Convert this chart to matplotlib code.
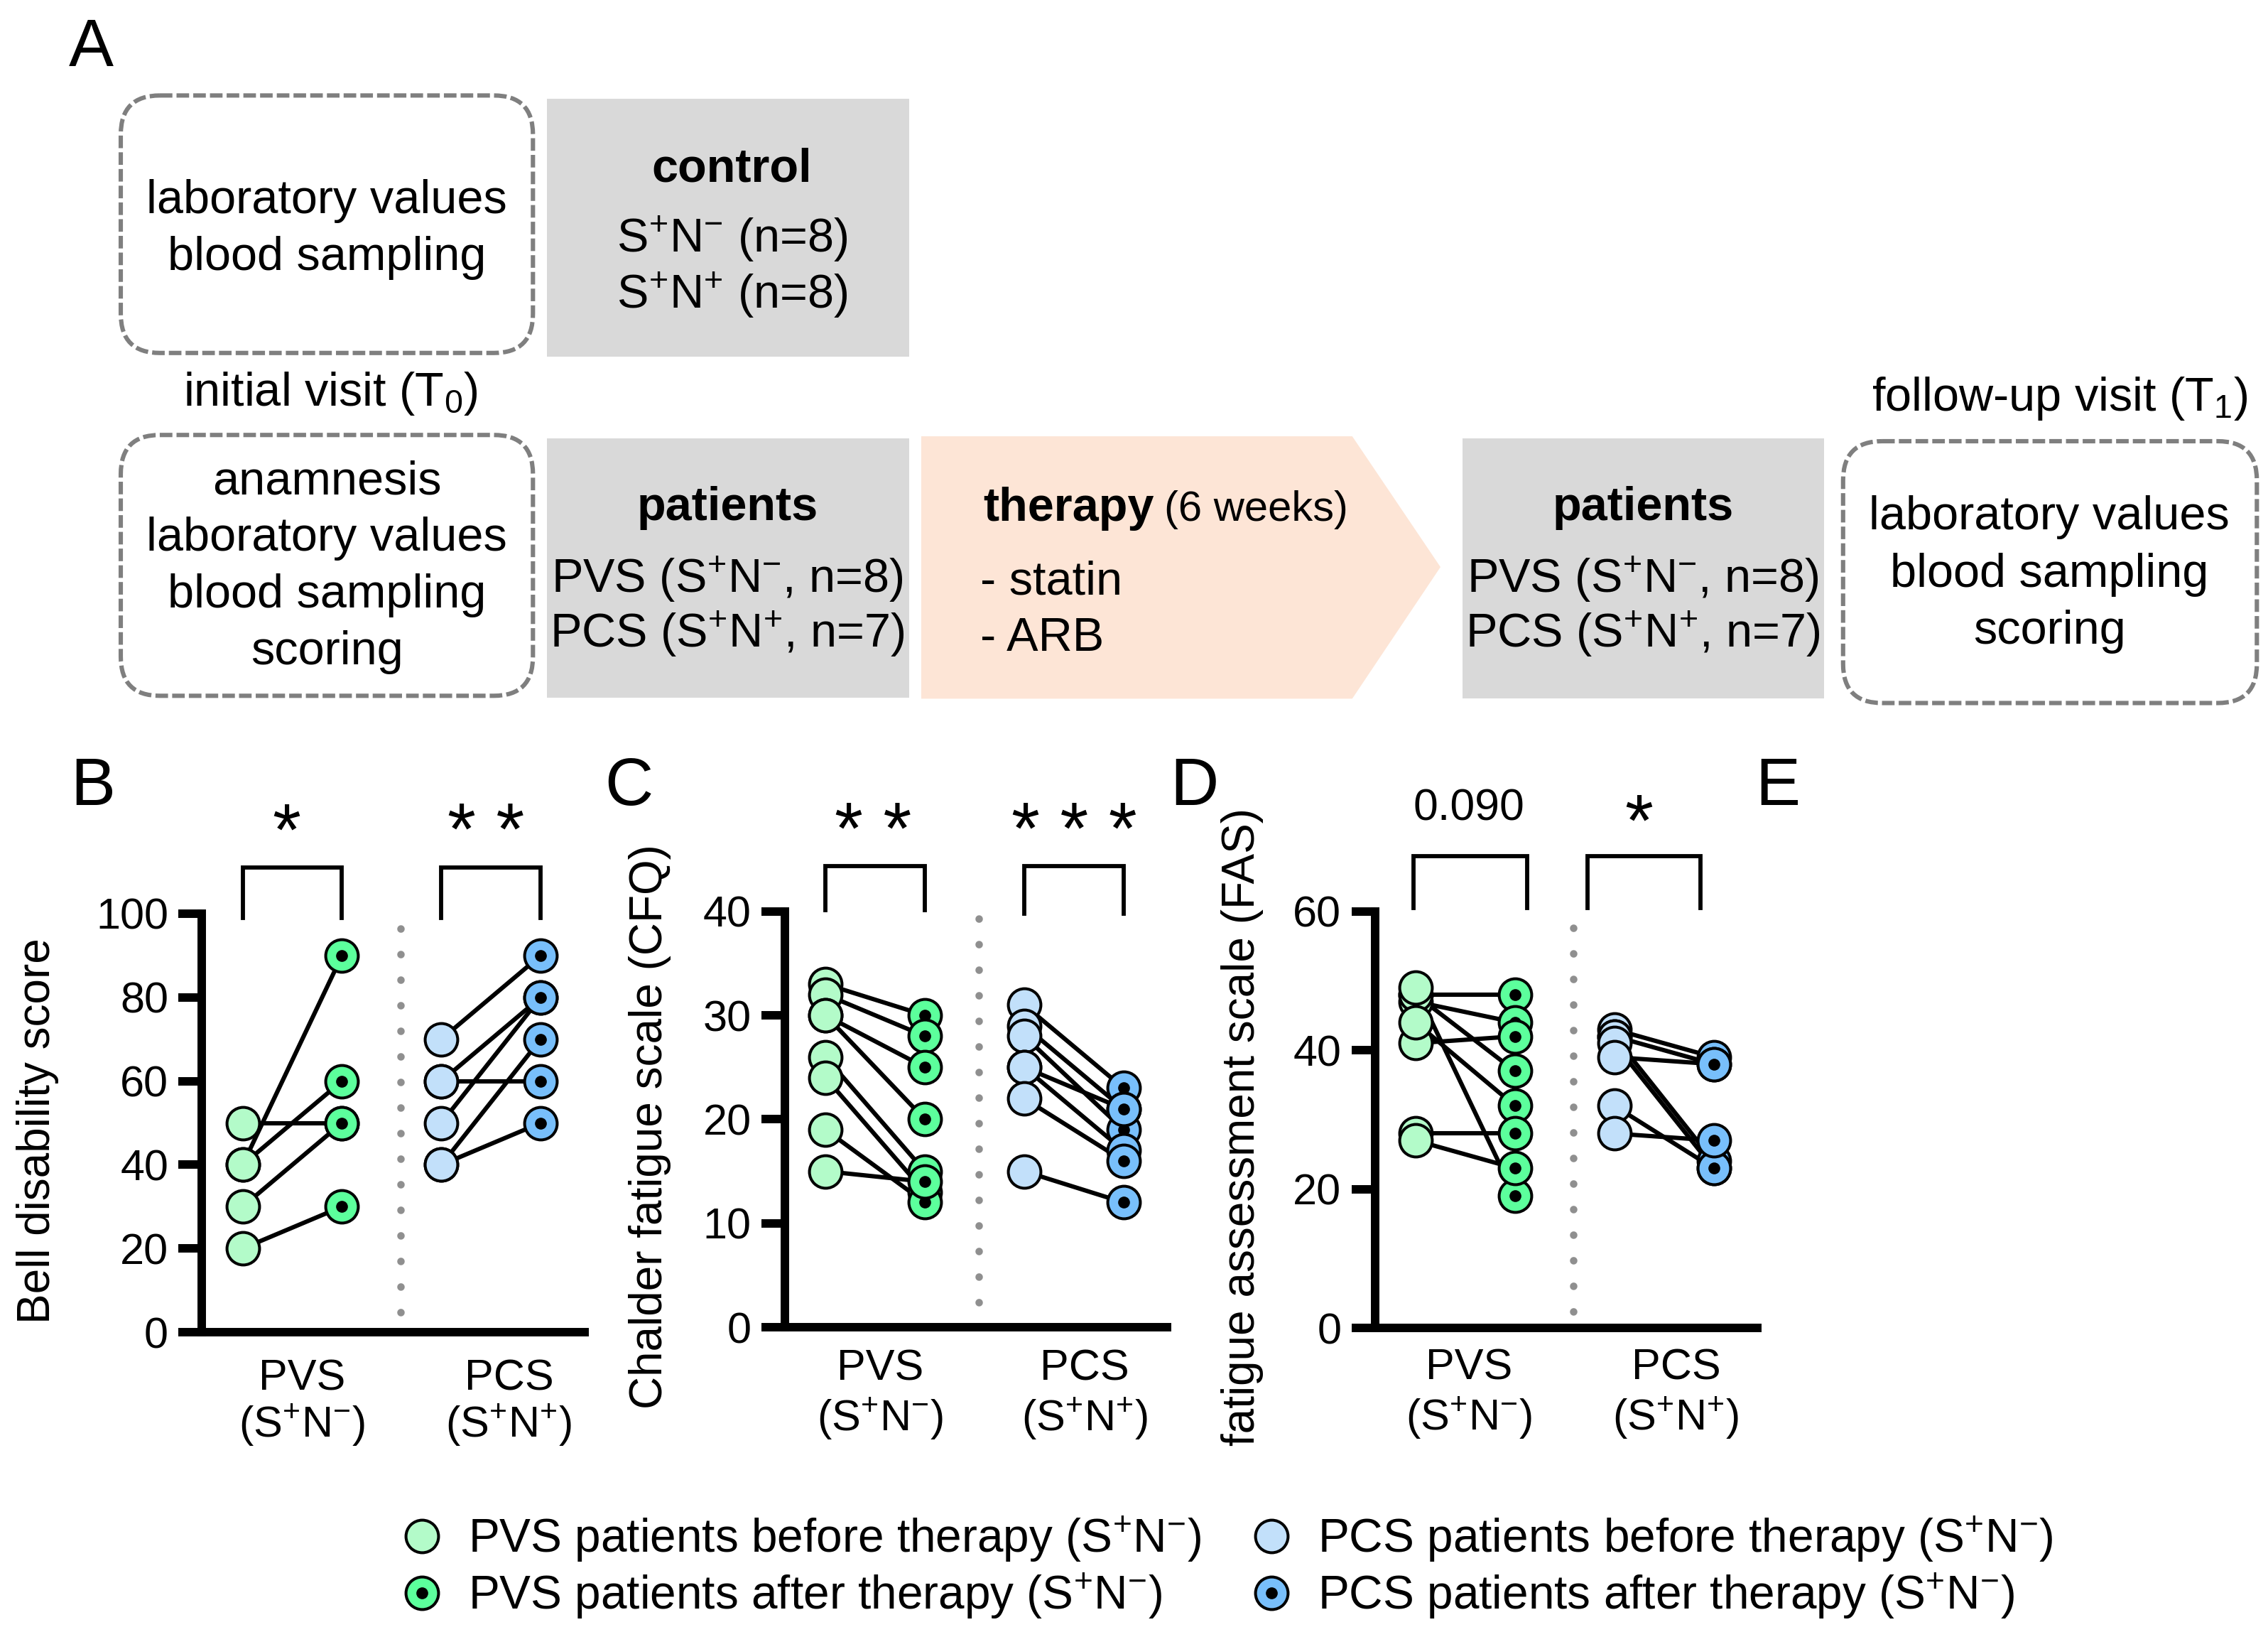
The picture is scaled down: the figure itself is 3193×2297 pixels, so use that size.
import matplotlib.pyplot as plt
import numpy as np
from matplotlib.patches import FancyBboxPatch, Rectangle, Polygon
from matplotlib.lines import Line2D
from matplotlib.legend_handler import HandlerTuple

plt.rcParams['font.family'] = ['Liberation Sans', 'DejaVu Sans']
plt.rcParams['mathtext.fontset'] = 'custom'
plt.rcParams['mathtext.rm'] = 'Liberation Sans'
plt.rcParams['mathtext.it'] = 'Liberation Sans:italic'
plt.rcParams['mathtext.bf'] = 'Liberation Sans:bold'

# ---- data (paired before / after values) ----
bell_pvs_before = [50, 40, 40, 30, 20]
bell_pvs_after = [50, 90, 60, 50, 30]
bell_pcs_before = [70, 60, 60, 50, 40, 40]
bell_pcs_after = [90, 80, 60, 80, 70, 50]

cfq_pvs_before = [33, 32, 30, 30, 26, 24, 19, 15]
cfq_pvs_after = [30, 28, 25, 20, 15, 13, 12, 14]
cfq_pcs_before = [31, 29, 28, 25, 25, 22, 15]
cfq_pcs_after = [23, 21, 19, 21, 17, 16, 12]

fas_pvs_before = [48, 47, 41, 48, 44, 49, 28, 27]
fas_pvs_after = [48, 44, 42, 37, 32, 19, 28, 23]
fas_pcs_before = [43, 42, 42, 41, 39, 32, 28]
fas_pcs_after = [39, 38, 24, 23, 38, 23, 27]

group_labels = ['PVS', 'PCS']
group_sub = ['(S$^{+}$N$^{-}$)', '(S$^{+}$N$^{+}$)']

legend_labels = ['PVS patients before therapy (S$^{+}$N$^{-}$)',
                 'PVS patients after therapy (S$^{+}$N$^{-}$)',
                 'PCS patients before therapy (S$^{+}$N$^{-}$)',
                 'PCS patients after therapy (S$^{+}$N$^{-}$)']

c_pvs_before = '#b3fbc9'
c_pvs_after = '#5cff9c'
c_pcs_before = '#c2e0fa'
c_pcs_after = '#78bffb'

W, H = 1568.2, 1128.2
fig = plt.figure(figsize=(15.965, 11.485), dpi=200)

# ---- panel A: overview scheme ----
ax0 = fig.add_axes([0, 0, 1, 1])
ax0.set_xlim(0, W)
ax0.set_ylim(H, 0)
ax0.axis('off')

for x0, y0, x1, y1 in [(83.5, 66, 368.5, 244), (83.5, 300.7, 368.5, 481),
                       (1274.4, 305, 1560.5, 486)]:
    ax0.add_patch(FancyBboxPatch((x0, y0), x1 - x0, y1 - y0,
                                 boxstyle='round,pad=0,rounding_size=27',
                                 fill=False, ec='#7f7f7f', lw=2.2,
                                 ls=(0, (2.9, 0.95))))
for x0, y0, x1, y1 in [(378, 68.3, 628.5, 246.8), (378, 303, 628.5, 482.5),
                       (1011.4, 303, 1261, 483)]:
    ax0.add_patch(Rectangle((x0, y0), x1 - x0, y1 - y0, fc='#d9d9d9', ec='none'))
ax0.add_patch(Polygon([(637, 301.6), (935, 301.6), (996, 392), (935, 483), (637, 483)],
                      closed=True, fc='#fde5d6', ec='none'))

fs = 24
def t(x, y, s, **kw):
    kw.setdefault('ha', 'center')
    ax0.text(x, y, s, fontsize=kw.pop('size', fs), va='baseline', **kw)

t(226, 147.5, 'laboratory values')
t(226, 186.5, 'blood sampling')
t(506, 125.5, 'control', weight='bold')
t(506, 174.5, 'S$^{+}$N$^{-}$ (n=8)')
t(506, 213, 'S$^{+}$N$^{+}$ (n=8)')
t(228.5, 280.4, 'initial visit (T$_{0}$)')
t(1424, 284, 'follow-up visit (T$_{1}$)')
for yy, s in zip([341.4, 380.6, 419.8, 459],
                 ['anamnesis', 'laboratory values', 'blood sampling', 'scoring']):
    t(226, yy, s)
for xc in [503, 1136]:
    t(xc, 359.5, 'patients', weight='bold')
    t(xc, 409.5, 'PVS (S$^{+}$N$^{-}$, n=8)')
    t(xc, 447.5, 'PCS (S$^{+}$N$^{+}$, n=7)')
t(680, 360, 'therapy', weight='bold', ha='left')
t(805, 360, '(6 weeks)', ha='left', size=21.5)
t(678, 411, '- statin', ha='left')
t(678, 450, '- ARB', ha='left')
for yy, s in zip([366, 405.5, 445], ['laboratory values', 'blood sampling', 'scoring']):
    t(1417, yy, s)

for x, s in [(63, 'A'), (64, 'B'), (435, 'C'), (826, 'D'), (1229, 'E')]:
    ax0.text(x, 45.5 if s == 'A' else 556.5, s, fontsize=34, ha='center', va='baseline')


# ---- panels B-D ----
def panel(rect, ymax, yticks, ylabel, lab_x, data, sep, sep_lim, grp_x, grp_y,
          brackets, sig):
    left, top, right, bottom = rect
    ax = fig.add_axes([left / W, 1 - bottom / H, (right - left) / W, (bottom - top) / H])
    ax.set_xlim(-0.41, 3.44)
    ax.set_ylim(0, ymax)
    ax.set_yticks(yticks)
    ax.set_xticks([])
    for sp in ['top', 'right']:
        ax.spines[sp].set_visible(False)
    for sp in ['left', 'bottom']:
        ax.spines[sp].set_linewidth(4.3)
    ax.tick_params(axis='y', direction='out', length=12, width=4.3, labelsize=22, pad=5)
    ax.set_ylabel(ylabel, fontsize=23, ha='center', va='center')
    ax.yaxis.set_label_coords(lab_x, 0.482)
    ax.patch.set_alpha(0)

    z = 5
    for x0, before, after, cb, ca in data:
        for b, a in zip(before, after):
            ax.plot([x0, x0 + 1], [b, a], color='k', lw=2.2, zorder=2,
                    solid_capstyle='butt')
        for b in before:
            ax.plot(x0, b, 'o', ms=16.5, mfc=cb, mec='k', mew=1.45, zorder=z,
                    clip_on=False)
            z += 1
        for a in after:
            ax.plot(x0 + 1, a, 'o', ms=16.5, mfc=ca, mec='k', mew=1.45, zorder=z,
                    clip_on=False)
            ax.plot(x0 + 1, a, 'o', ms=6, mfc='k', mec='k', mew=0, zorder=z + 1,
                    clip_on=False)
            z += 2

    tr = ax.get_xaxis_transform()
    ax.plot([sep, sep], sep_lim, transform=tr, color='#8f8f8f', lw=3.8,
            ls=(0, (0.01, 3.4)), dash_capstyle='round', clip_on=False)

    for gx, g, s in zip(grp_x, group_labels, group_sub):
        ax.text(gx, grp_y[0], g, transform=tr, fontsize=22, ha='center', va='baseline')
        ax.text(gx, grp_y[1], s, transform=tr, fontsize=22, ha='center', va='baseline')

    for (xa, xb, ylo, yhi), (sx, sy, stxt, sfs) in zip(brackets, sig):
        ax.plot([xa, xa, xb, xb], [ylo, yhi, yhi, ylo], transform=tr, color='k',
                lw=2.1, clip_on=False, solid_joinstyle='miter')
        ax.text(sx, sy, stxt, transform=tr, fontsize=sfs, ha='center', va='baseline')
    return ax


panel((139.6, 631.6, 404.1, 921), 100, [0, 20, 40, 60, 80, 100],
      'Bell disability score', -0.43,
      [(0, bell_pvs_before, bell_pvs_after, c_pvs_before, c_pvs_after),
       (2, bell_pcs_before, bell_pcs_after, c_pcs_before, c_pcs_after)],
      1.59, [0.048, 1.023], [0.6, 2.68], [-0.138, -0.2505],
      [(0, 1, 0.989, 1.110), (2, 3, 0.989, 1.110)],
      [(0.44, 1.14, '*', 37), (2.45, 1.14, '* *', 37)])

panel((542.6, 630, 807.1, 917.5), 40, [0, 10, 20, 30, 40],
      'Chalder fatigue scale (CFQ)', -0.352,
      [(0, cfq_pvs_before, cfq_pvs_after, c_pvs_before, c_pvs_after),
       (2, cfq_pcs_before, cfq_pcs_after, c_pcs_before, c_pcs_after)],
      1.54, [0.059, 1.043], [0.55, 2.61], [-0.128, -0.2477],
      [(0, 1, 1.003, 1.109), (2, 3, 0.995, 1.109)],
      [(0.48, 1.138, '* *', 37), (2.5, 1.138, '* * *', 37)])

panel((950.6, 630, 1215.1, 918), 60, [0, 20, 40, 60],
      'fatigue assessment scale (FAS)', -0.346,
      [(0, fas_pvs_before, fas_pvs_after, c_pvs_before, c_pvs_after),
       (2, fas_pcs_before, fas_pcs_after, c_pcs_before, c_pcs_after)],
      1.59, [0.039, 1.02], [0.54, 2.62], [-0.124, -0.2455],
      [(-0.02, 1.12, 1.008, 1.133), (1.73, 2.87, 1.008, 1.133)],
      [(0.54, 1.218, '0.090', 22.5), (2.25, 1.158, '*', 37)])

# ---- legend ----
def handle(c, dot):
    h = Line2D([], [], marker='o', ls='none', ms=16.5, mfc=c, mec='k', mew=1.45)
    if dot:
        return (h, Line2D([], [], marker='o', ls='none', ms=6, mfc='k', mec='k', mew=0))
    return (h,)

handles = [handle(c_pvs_before, False), handle(c_pvs_after, True),
           handle(c_pcs_before, False), handle(c_pcs_after, True)]
fig.legend(handles, legend_labels, ncol=2, loc='upper left',
           bbox_to_anchor=(275.6 / W, 1 - 1047 / H), frameon=False, fontsize=23.7,
           handlelength=1.0, handletextpad=0.49, columnspacing=1.0,
           labelspacing=0.15, borderpad=0, borderaxespad=0,
           handler_map={tuple: HandlerTuple(ndivide=1, pad=0)})

fig.savefig('out.png', dpi=200)
